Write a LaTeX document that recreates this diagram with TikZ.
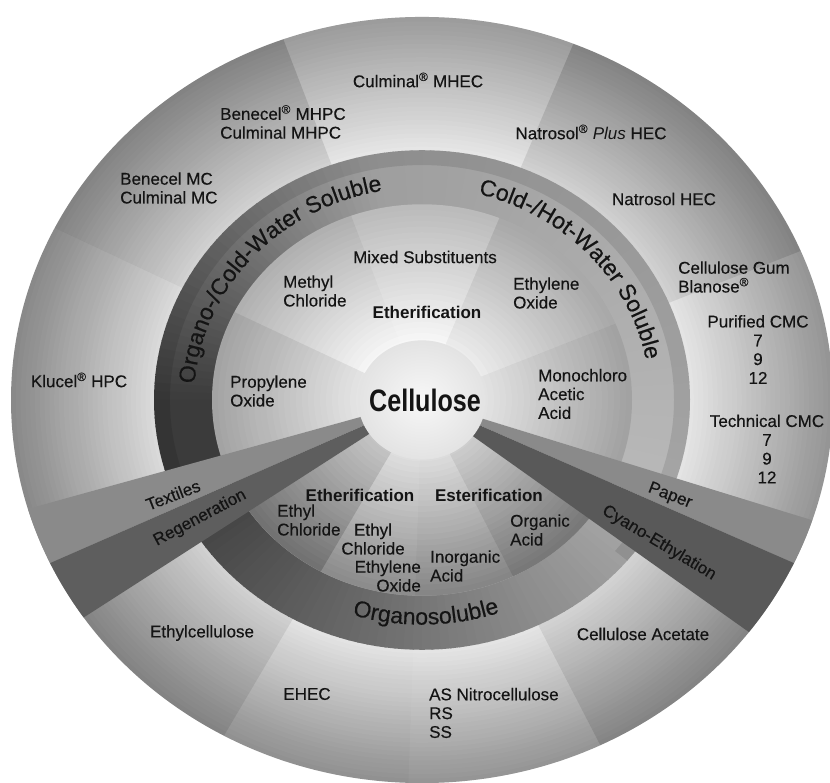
\documentclass[tikz,border=0pt]{standalone}
\usepackage{fontspec}
\setmainfont{Liberation Sans}[UprightFeatures={FakeBold=0.35}]
\usepackage{graphicx}
\usetikzlibrary{decorations.text}
\newcommand{\lblfont}{\fontsize{17}{18.8}\selectfont}
\newcommand{\ringfont}{\fontsize{23}{23}\selectfont}
\newcommand{\regm}{\textsuperscript{®}}
\definecolor{rimdark}{gray}{0.56}
\definecolor{rimlight}{gray}{0.90}
\definecolor{txt}{gray}{0.08}
\tikzset{
  annsec/.style n args={4}{insert path={(#1:#3) arc[start angle=#1,end angle=#2,radius=#3] -- (#2:#4) arc[start angle=#2,end angle=#1,radius=#4] -- cycle}},
  wedgepath/.style n args={3}{insert path={(0,0) -- (#1:#3) arc[start angle=#1,end angle=#2,radius=#3] -- cycle}},
  lbl/.style={font=\lblfont, text=txt, inner sep=0pt},
  boldlbl/.style={font=\lblfont\bfseries, text=txt, inner sep=0pt},
  ringtext/.style={decorate, decoration={text along path, text align=center, text color=txt, text={|\ringfont|#1}}},
}
\begin{document}
\begin{tikzpicture}[x=1pt,y=1pt]
\useasboundingbox (0,0) rectangle (830,-783);
\fill[white] (0,0) rectangle (830,-783);
\begin{scope}[shift={(422,-400)}, yscale=0.932]
  % outer disk: radial gradient
  \foreach \i in {0,...,30}{
    \pgfmathsetmacro\rr{411-\i*4.8}
    \pgfmathsetmacro\pp{100*\i/30}
    \fill[rimlight!\pp!rimdark] (0,0) circle (\rr);
  }
  % outer sector tints
  \fill[black, fill opacity=0.04, annsec={153.3}{196.5}{411}{266}];
  \fill[black, fill opacity=0.08, annsec={109.7}{153.3}{411}{266}];
  \fill[white, fill opacity=0.12, annsec={68.4}{109.7}{411}{266}];
  \fill[black, fill opacity=0.08, annsec={22.9}{68.4}{411}{266}];
  \fill[white, fill opacity=0.06, annsec={-18.3}{22.9}{411}{266}];
  \fill[black, fill opacity=0.07, annsec={-64.3}{-37.3}{411}{266}];
  \fill[white, fill opacity=0.06, annsec={-91.9}{-64.3}{411}{266}];
  \fill[white, fill opacity=0.02, annsec={241.2}{268.1}{411}{266}];
  \fill[black, fill opacity=0.08, annsec={214.6}{241.2}{411}{266}];
  % middle band, upper part (angular gradient)
  \foreach \a in {-20,-18,...,198}{
    \pgfmathsetmacro\b{\a+2.3}
    \pgfmathsetmacro\k{\a>100 ? min(77,38+(\a-100)*0.49) : 38-(100-\a)*0.083}
    \fill[black!\k, annsec={\a}{\b}{268}{208}];
  }
  % middle band, lower part
  \foreach \a in {212,214,...,324}{
    \pgfmathsetmacro\b{\a+2.3}
    \pgfmathsetmacro\k{72-(\a-214)*0.33}
    \fill[black!\k, annsec={\a}{\b}{268}{208}];
  }
  \fill[black, fill opacity=0.10, annsec={-40}{200}{268}{252}];
  % inner disk upper gradient
  \foreach \j in {0,...,24}{
    \pgfmathsetmacro\rr{210-\j*6}
    \pgfmathsetmacro\k{31-\j*1.15}
    \fill[black!\k] (0,0) circle (\rr);
  }
  % inner disk lower gradient
  \foreach \j in {0,...,24}{
    \pgfmathsetmacro\rr{210-\j*6}
    \pgfmathsetmacro\k{50-\j*1.5}
    \fill[black!\k, wedgepath={214}{323}{\rr}];
  }
  % inner sub-sector tints
  \fill[black, fill opacity=0.07, annsec={153.3}{196.5}{210}{60}];
  \fill[white, fill opacity=0.14, annsec={68.4}{109.7}{210}{60}];
  \fill[black, fill opacity=0.04, annsec={22.9}{68.4}{210}{60}];
  \fill[black, fill opacity=0.08, annsec={-18.3}{22.9}{210}{60}];
  \fill[black, fill opacity=0.10, annsec={214.6}{241.2}{210}{60}];
  \fill[white, fill opacity=0.10, annsec={241.2}{268.1}{210}{60}];
  \fill[white, fill opacity=0.05, annsec={268.1}{295.7}{210}{60}];
  \fill[black, fill opacity=0.06, annsec={295.7}{322.7}{210}{60}];
  % wedge bands
  \fill[black!46, wedgepath={196.5}{205.2}{411}];
  \fill[black!63, wedgepath={205.2}{214.6}{411}];
  \fill[black!46, wedgepath={-25.2}{-18.3}{411}];
  \fill[black!65, wedgepath={-37.3}{-25.2}{411}];
  % cellulose circle
  \shade[inner color=black!3, outer color=black!11] (0,0) circle (64);
\end{scope}

% ring labels
\path[ringtext={Organo-/Cold-Water Soluble}] ([shift={(422,-400)}]180:228 and 212.5) arc[start angle=180, end angle=96, x radius=228, y radius=212.5];
\path[ringtext={Cold-/Hot-Water Soluble}] ([shift={(422,-400)}]84:228 and 212.5) arc[start angle=84, end angle=2, x radius=228, y radius=212.5];
\path[ringtext={Organosoluble}] ([shift={(422,-400)}]240:241 and 224.6) arc[start angle=240, end angle=302, x radius=241, y radius=224.6];

% outer ring labels
\node[lbl] (mhec) at (418,-80) {Culminal\regm{} MHEC};
\node[lbl, anchor=west, align=left] (mhpc) at (220,-122) {Benecel\regm{} MHPC\\Culminal MHPC};
\node[lbl] (plus) at (591,-132) {Natrosol\regm{} \textit{Plus} HEC};
\node[lbl, anchor=west, align=left] (mc) at (120,-188) {Benecel MC\\Culminal MC};
\node[lbl] (hec) at (664,-199) {Natrosol HEC};
\node[lbl, anchor=west, align=left] (gum) at (678,-277) {Cellulose Gum\\Blanose\regm};
\node[lbl, align=center] (pcmc) at (758,-349.5) {Purified CMC\\7\\9\\12};
\node[lbl, align=center] (tcmc) at (767,-449) {Technical CMC\\7\\9\\12};
\node[lbl] (hpc) at (79,-380) {Klucel\regm{} HPC};
\node[lbl] (ec) at (202,-633) {Ethylcellulose};
\node[lbl] (ehec) at (307,-694) {EHEC};
\node[lbl, anchor=west, align=left] (nc) at (429,-713) {AS Nitrocellulose\\RS\\SS};
\node[lbl] (ca) at (643,-634) {Cellulose Acetate};

% inner labels
\node[lbl] (mix) at (425,-257) {Mixed Substituents};
\node[lbl, anchor=west, align=left] (mecl) at (283,-291) {Methyl\\Chloride};
\node[boldlbl] (eth1) at (427,-312) {Etherification};
\node[lbl, anchor=west, align=left] (eo1) at (513,-293) {Ethylene\\Oxide};
\node[lbl, anchor=west, align=left] (po) at (230,-391) {Propylene\\Oxide};
\node[lbl, anchor=west, align=left] (mca) at (538,-394) {Monochloro\\Acetic\\Acid};
\node[lbl] (cell) at (425,-400) {\scalebox{0.81}[1]{\fontsize{31}{31}\selectfont\bfseries Cellulose}};
\node[boldlbl] (eth2) at (360,-495) {Etherification};
\node[boldlbl] (est) at (489,-495) {Esterification};
\node[lbl, anchor=west, align=left] (etcl1) at (277,-520) {Ethyl\\Chloride};
\node[lbl, align=center] (etcl2) at (373,-539) {Ethyl\\Chloride};
\node[lbl, anchor=east, align=right] (eo2) at (421,-576) {Ethylene\\Oxide};
\node[lbl, anchor=west, align=left] (inorg) at (430,-566) {Inorganic\\Acid};
\node[lbl, anchor=west, align=left] (org) at (510,-530) {Organic\\Acid};

% band labels
\node[lbl, rotate=21] (tex) at (173,-495) {Textiles};
\node[lbl, rotate=28] (reg) at (200,-518) {Regeneration};
\node[lbl, rotate=-21] (pap) at (670,-496) {Paper};
\node[lbl, rotate=-31] (cy) at (659,-543) {Cyano-Ethylation};
\end{tikzpicture}
\end{document}
